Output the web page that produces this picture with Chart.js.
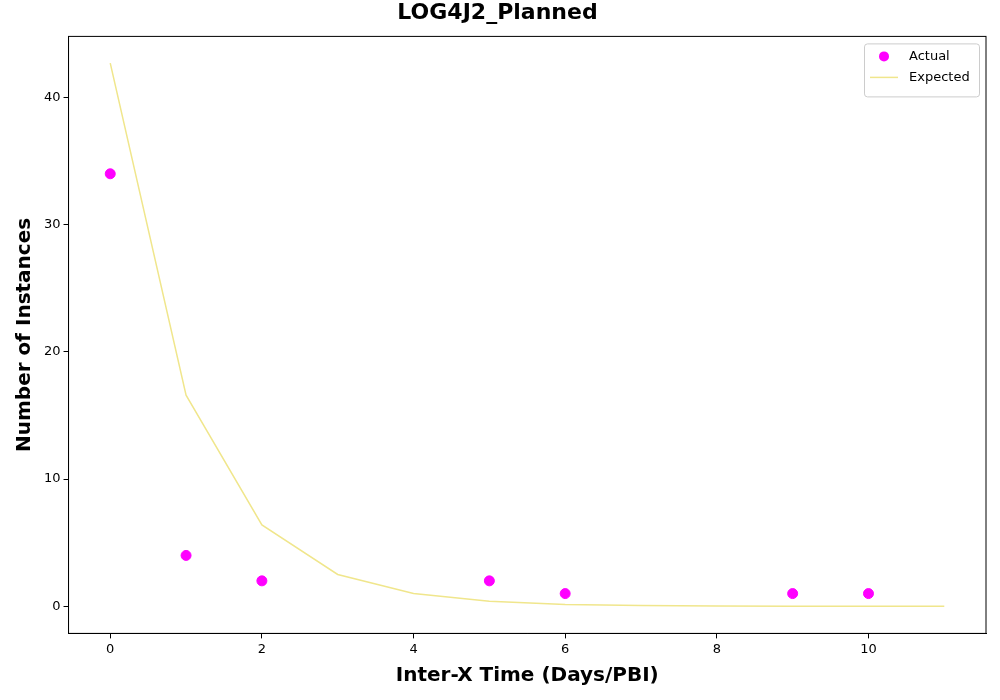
<!DOCTYPE html>
<html>
<head>
<meta charset="utf-8">
<script src="https://cdn.jsdelivr.net/npm/chart.js@4/dist/chart.umd.min.js"></script>
<style>
  body { margin: 0; background: #fff; }
  #wrap { width: 1000px; height: 700px; }
</style>
</head>
<body>
<div id="wrap"><canvas id="chart" width="1000" height="700"></canvas></div>
<script>
// Chart data
const actualX = [0, 1, 2, 5, 6, 9, 10];
const actualY = [34, 4, 2, 2, 1, 1, 1];
const expectedX = [0, 1, 2, 3, 4, 5, 6, 7, 8, 9, 10, 11];
const expectedY = [42.7, 16.6, 6.4, 2.5, 1.0, 0.4, 0.15, 0.06, 0.02, 0.01, 0.0, 0.0];

// Legend drawn inside the plot, top right
const insideLegend = {
  id: 'insideLegend',
  afterDraw(chart) {
    const ctx = chart.ctx;
    const area = chart.chartArea;
    const w = 115, h = 53;
    const x = area.right - w - 7, y = area.top + 7;
    ctx.save();
    ctx.fillStyle = 'rgba(255,255,255,0.8)';
    ctx.strokeStyle = '#cccccc';
    ctx.lineWidth = 1;
    ctx.beginPath();
    ctx.roundRect(x + 0.5, y + 0.5, w, h, 3);
    ctx.fill();
    ctx.stroke();
    ctx.fillStyle = '#ff00ff';
    ctx.beginPath();
    ctx.arc(x + 20, y + 13, 5, 0, Math.PI * 2);
    ctx.fill();
    ctx.strokeStyle = '#f0e68c';
    ctx.lineWidth = 1.5;
    ctx.beginPath();
    ctx.moveTo(x + 6, y + 34);
    ctx.lineTo(x + 34, y + 34);
    ctx.stroke();
    ctx.fillStyle = '#000';
    ctx.font = '13px "DejaVu Sans"';
    ctx.textBaseline = 'middle';
    ctx.fillText('Actual', x + 45, y + 13);
    ctx.fillText('Expected', x + 45, y + 34);
    ctx.restore();
  }
};

const tickGrid = { display: true, drawOnChartArea: false, drawTicks: true, tickLength: 5, tickColor: '#000' };

const ctx = document.getElementById('chart').getContext('2d');
new Chart(ctx, {
  type: 'scatter',
  data: {
    datasets: [
      {
        label: 'Actual',
        data: actualX.map((x, i) => ({ x: x, y: actualY[i] })),
        backgroundColor: '#ff00ff',
        borderColor: '#ff00ff',
        pointRadius: 5,
        order: 1
      },
      {
        label: 'Expected',
        type: 'line',
        data: expectedX.map((x, i) => ({ x: x, y: expectedY[i] })),
        borderColor: '#f0e68c',
        borderWidth: 1.5,
        pointRadius: 0,
        fill: false,
        tension: 0,
        order: 2
      }
    ]
  },
  options: {
    responsive: false,
    animation: false,
    layout: { padding: { top: 0, right: 14, bottom: 8, left: 9 } },
    plugins: {
      legend: { display: false },
      tooltip: { enabled: false },
      title: {
        display: true,
        text: 'LOG4J2_Planned',
        color: '#000',
        font: { family: 'DejaVu Sans', size: 22, weight: 'bold' },
        padding: { top: 0, bottom: 10 }
      }
    },
    scales: {
      x: {
        type: 'linear',
        min: -0.55,
        max: 11.55,
        afterBuildTicks: axis => { axis.ticks = [0, 2, 4, 6, 8, 10].map(v => ({ value: v })); },
        grid: tickGrid,
        border: { color: '#000' },
        ticks: { color: '#000', font: { family: 'DejaVu Sans', size: 13 } },
        title: {
          display: true,
          text: 'Inter-X Time (Days/PBI)',
          color: '#000',
          font: { family: 'DejaVu Sans', size: 20, weight: 'bold' }
        }
      },
      y: {
        min: -2.13,
        max: 44.8,
        afterBuildTicks: axis => { axis.ticks = [0, 10, 20, 30, 40].map(v => ({ value: v })); },
        grid: tickGrid,
        border: { color: '#000' },
        ticks: { color: '#000', font: { family: 'DejaVu Sans', size: 13 } },
        title: {
          display: true,
          text: 'Number of Instances',
          color: '#000',
          font: { family: 'DejaVu Sans', size: 20, weight: 'bold' }
        }
      }
    }
  },
  plugins: [insideLegend, {
    id: 'frame',
    afterDraw(chart) {
      const a = chart.chartArea, c = chart.ctx;
      c.save();
      c.strokeStyle = '#000';
      c.lineWidth = 1;
      c.strokeRect(a.left, a.top, a.right - a.left, a.bottom - a.top);
      c.restore();
    }
  }]
});
</script>
</body>
</html>
